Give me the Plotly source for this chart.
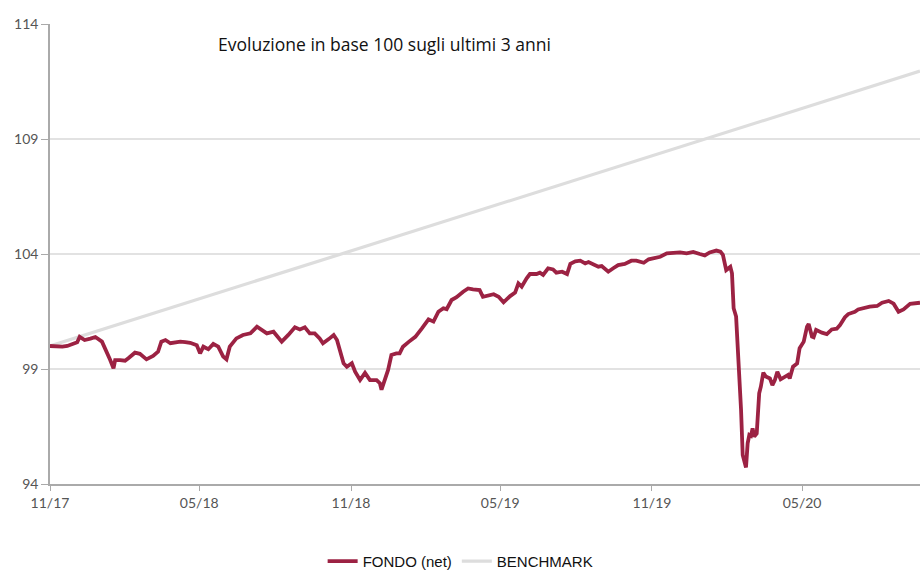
import pandas as pd
import plotly.graph_objects as go

start = pd.Timestamp("2017-11-01")

# Fund (net), day offsets from start and index values (base 100)
fund_day = [0, 7, 15, 21, 27, 33, 36, 42, 49, 55, 63, 69, 73, 77, 79, 85, 91, 95, 103, 109,
            117, 125, 131, 135, 140, 146, 152, 158, 164, 170, 178, 182, 186, 192, 198, 204, 210, 214, 218, 226,
            234, 243, 251, 257, 263, 271, 281, 289, 297, 303, 309, 315, 321, 327, 331, 338, 344, 348, 352, 356,
            360, 366, 370, 376, 382, 388, 396, 400, 402, 406, 410, 414, 420, 424, 428, 435, 443, 451, 459, 465,
            471, 477, 481, 487, 493, 501, 507, 513, 521, 525, 532, 538, 544, 550, 558, 564, 568, 572, 578, 582,
            590, 594, 598, 604, 610, 614, 621, 627, 631, 637, 643, 649, 653, 659, 665, 669, 677, 683, 689, 697,
            705, 711, 720, 726, 734, 740, 748, 755, 764, 772, 780, 788, 794, 800, 808, 813, 816, 820, 825, 827,
            829, 832, 835, 838, 840, 842, 844, 846, 848, 850, 852, 854, 857, 860, 862, 865, 868, 873, 876, 879,
            882, 886, 891, 895, 897, 901, 906, 909, 914, 918, 920, 924, 926, 929, 936, 942, 948, 954, 958, 964,
            968, 976, 980, 986, 994, 1003, 1009, 1017, 1023, 1029, 1035, 1043, 1055]
fund_val = [100.00, 99.98, 99.97, 100.00, 100.08, 100.16, 100.40, 100.26, 100.32, 100.39, 100.19, 99.75, 99.39, 99.03, 99.39, 99.39, 99.36, 99.47, 99.71, 99.66,
            99.42, 99.57, 99.75, 100.19, 100.26, 100.12, 100.17, 100.19, 100.17, 100.14, 100.03, 99.68, 99.97, 99.86, 100.09, 99.97, 99.54, 99.42, 99.97, 100.33,
            100.48, 100.55, 100.84, 100.70, 100.55, 100.62, 100.19, 100.48, 100.81, 100.72, 100.81, 100.55, 100.55, 100.33, 100.12, 100.30, 100.48, 100.26, 99.68, 99.25,
            99.10, 99.25, 98.88, 98.52, 98.83, 98.52, 98.52, 98.38, 98.10, 98.52, 98.96, 99.61, 99.68, 99.68, 99.97, 100.18, 100.40, 100.77, 101.16, 101.06,
            101.49, 101.64, 101.60, 102.00, 102.12, 102.36, 102.50, 102.46, 102.43, 102.14, 102.20, 102.25, 102.14, 101.90, 102.17, 102.32, 102.72, 102.58, 102.94, 103.13,
            103.13, 103.19, 103.09, 103.38, 103.33, 103.19, 103.23, 103.13, 103.57, 103.68, 103.71, 103.59, 103.65, 103.57, 103.45, 103.48, 103.23, 103.38, 103.52, 103.57,
            103.71, 103.71, 103.62, 103.77, 103.81, 103.88, 104.03, 104.05, 104.07, 104.03, 104.09, 104.00, 103.94, 104.07, 104.15, 104.10, 103.96, 103.30, 103.44, 103.16,
            101.64, 101.28, 99.39, 97.22, 95.26, 95.05, 94.72, 95.77, 96.13, 96.09, 96.42, 96.06, 96.19, 97.94, 98.23, 98.84, 98.67, 98.59, 98.30, 98.52,
            98.88, 98.55, 98.67, 98.74, 98.59, 99.10, 99.24, 99.90, 100.19, 100.84, 100.96, 100.41, 100.38, 100.70, 100.58, 100.52, 100.72, 100.75, 100.91, 101.25,
            101.39, 101.49, 101.59, 101.64, 101.71, 101.74, 101.88, 101.96, 101.84, 101.49, 101.59, 101.83, 101.88]

# Benchmark, day offsets and values
bench_day = [0, 30, 61, 92, 120, 151, 181, 212, 242, 273, 304, 334, 365, 395, 426, 457, 485, 516,
             546, 577, 607, 638, 669, 699, 730, 760, 791, 822, 851, 882, 912, 943, 973, 1004, 1035, 1055]
bench_val = [100.00, 100.34, 100.69, 101.04, 101.36, 101.71, 102.05, 102.40, 102.74, 103.09, 103.44, 103.78,
             104.13, 104.47, 104.83, 105.18, 105.49, 105.84, 106.18, 106.54, 106.88, 107.23, 107.58, 107.92,
             108.27, 108.61, 108.96, 109.31, 109.64, 109.99, 110.33, 110.68, 111.02, 111.37, 111.72, 111.95]

tick_dates = ["2017-11-01", "2018-05-01", "2018-11-01", "2019-05-01", "2019-11-01", "2020-05-01"]
tick_labels = ["11/17", "05/18", "11/18", "05/19", "11/19", "05/20"]
y_ticks = [94, 99, 104, 109, 114]

fund_x = [start + pd.Timedelta(days=d) for d in fund_day]
bench_x = [start + pd.Timedelta(days=d) for d in bench_day]

fig = go.Figure()
fig.add_trace(go.Scatter(x=bench_x, y=bench_val, mode="lines", name="BENCHMARK",
                         line=dict(color="#dddddd", width=3.2), legendrank=2))
fig.add_trace(go.Scatter(x=fund_x, y=fund_val, mode="lines", name="FONDO (net)",
                         line=dict(color="#9c2243", width=3.8), legendrank=1))

fig.update_layout(
    width=920, height=570,
    margin=dict(l=50, r=0, t=24, b=86, autoexpand=False),
    paper_bgcolor="white", plot_bgcolor="white",
    font=dict(family="Lato, sans-serif", color="#555555", size=14),
    showlegend=True,
    legend=dict(orientation="h", x=0.472, xanchor="center", y=-0.168, yanchor="middle",
                font=dict(family="Liberation Sans, Arial, sans-serif", size=15, color="#111111"),
                itemwidth=30, traceorder="normal"),
    annotations=[dict(text="Evoluzione in base 100 sugli ultimi 3 anni", xref="paper", yref="paper",
                      x=0.385, y=0.957, xanchor="center", yanchor="middle", showarrow=False,
                      font=dict(family="Open Sans, sans-serif", size=17.5, color="#111111"))],
)
fig.update_xaxes(
    type="date", range=[start, start + pd.Timedelta(days=1055)], automargin=False,
    tickvals=tick_dates, ticktext=tick_labels, ticks="outside", ticklen=5, tickcolor="#aaaaaa",
    showline=True, linecolor="#aaaaaa", linewidth=1.5, showgrid=False, zeroline=False,
    tickfont=dict(size=14, color="#555555"),
)
fig.update_yaxes(
    range=[94, 114], tickvals=y_ticks, ticks="outside", ticklen=7, tickcolor="#aaaaaa", automargin=False,
    showline=True, linecolor="#aaaaaa", linewidth=1.5, showgrid=True, gridcolor="#e2e2e2", gridwidth=1.5,
    zeroline=False, tickfont=dict(size=14, color="#555555"),
)

fig.write_html("out.html", config={"displayModeBar": False},
               post_script="document.body.style.margin='0';document.body.style.overflow='hidden';")
